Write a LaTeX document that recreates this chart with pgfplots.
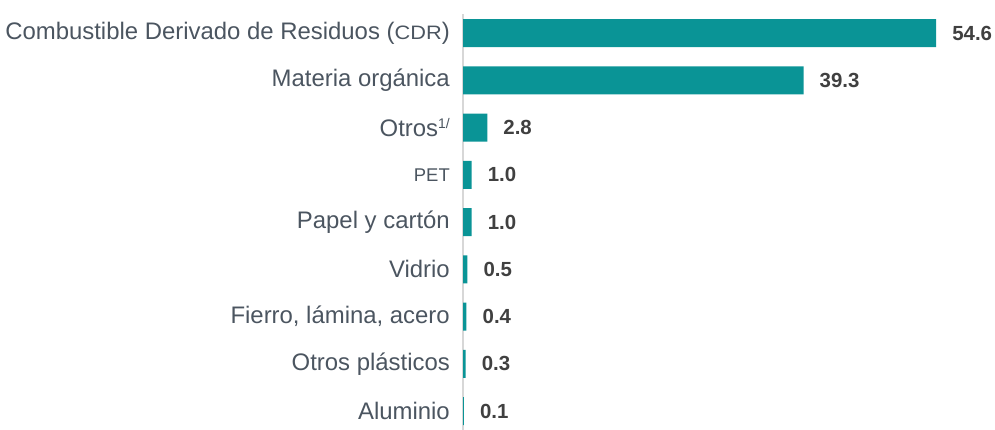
\documentclass[border=0pt]{standalone}
\usepackage{pgfplots}
\pgfplotsset{compat=1.18}
\usepackage{fontspec}
\setmainfont{Liberation Sans}
\usepackage{graphicx}
\definecolor{barc}{RGB}{10,148,150}
\definecolor{labc}{RGB}{75,85,96}
\definecolor{valc}{RGB}{64,64,64}
\definecolor{axc}{RGB}{215,215,215}
\begin{document}
\begin{tikzpicture}
\begin{axis}[
  at={(463bp,0bp)}, anchor=south west,
  scale only axis, width=532bp, height=415.8bp,
  xbar, bar width=28bp,
  xmin=0, xmax=61.4, ymin=-0.4, ymax=8.4, y dir=reverse,
  axis lines*=left,
  x axis line style={draw=none},
  y axis line style={-, draw=axc, line width=1.5bp},
  xtick=\empty,
  ytick={0,...,8},
  yticklabels={
    {Combustible Derivado de Residuos (\scalebox{1.12}[1]{\fontsize{19.5}{22}\selectfont CDR})},
    {Materia orgánica},
    {Otros\raisebox{8bp}{\fontsize{14}{16}\selectfont 1/}},
    {\fontsize{18.5}{22}\selectfont PET},
    {Papel y cartón},
    {Vidrio},
    {Fierro, lámina, acero},
    {Otros plásticos},
    {Aluminio}},
  major tick length=0pt,
  yticklabel style={font=\fontsize{24}{28}\selectfont, text=labc, inner sep=0pt, anchor=east, xshift=-13bp},
  point meta=x,
  nodes near coords={\pgfmathprintnumber[fixed,fixed zerofill,precision=1,assume math mode=true]{\pgfplotspointmeta}},
  nodes near coords style={font=\bfseries\fontsize{20.5}{24}\selectfont, text=valc, anchor=west, inner sep=0pt, xshift=16bp},
  clip=false,
]
\addplot[fill=barc, draw=none] coordinates {
  (54.6,0) (39.3,1) (2.8,2) (1.0,3) (1.0,4) (0.5,5) (0.4,6) (0.3,7) (0.1,8)
};
\end{axis}
\pgfresetboundingbox
\useasboundingbox (0,0) rectangle (995bp,430bp);
\end{tikzpicture}
\end{document}
